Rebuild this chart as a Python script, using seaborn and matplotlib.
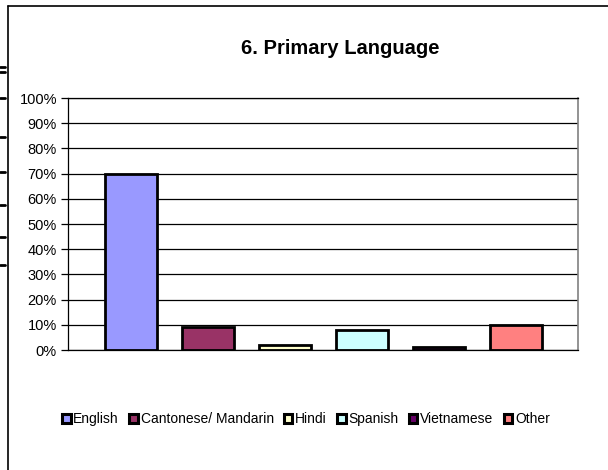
import pandas as pd
import seaborn as sns
from matplotlib import pyplot as plt
from matplotlib.lines import Line2D
from matplotlib.patches import Patch

languages = ["English", "Cantonese/ Mandarin", "Hindi", "Spanish", "Vietnamese", "Other"]
shares = [70, 9, 2, 8, 1, 10]
colors = ["#9999FF", "#993366", "#FFFFCC", "#CCFFFF", "#660066", "#FF8080"]
y_ticks = [0, 10, 20, 30, 40, 50, 60, 70, 80, 90, 100]


def main():
    sns.set_style("white")
    plt.rcParams["font.family"] = ["Liberation Sans", "DejaVu Sans"]
    plt.rcParams["text.color"] = "black"
    plt.rcParams["ytick.color"] = "black"
    plt.rcParams["ytick.labelcolor"] = "black"

    df = pd.DataFrame({"Language": languages, "Share": shares})

    fig = plt.figure(figsize=(6.08, 4.70), dpi=100)
    ax = fig.add_axes([68 / 608, 1 - 350 / 470, 510 / 608, 252 / 470])

    sns.barplot(df, x="Language", y="Share", hue="Language", palette=colors, saturation=1,
                width=0.68, edgecolor="black", linewidth=2.0, legend=False, ax=ax)

    ax.set_ylim(0, 100)
    ax.set_xlim(-0.82, 5.81)
    ax.set_yticks(y_ticks)
    ax.set_yticklabels([f"{t}%" for t in y_ticks], fontsize=10.5)
    ax.set_xticks([])
    ax.set_xlabel("")
    ax.set_ylabel("")
    ax.yaxis.grid(True, color="black", linewidth=0.9)
    ax.set_axisbelow(True)
    ax.tick_params(axis="y", left=True, length=5, width=0.9, color="black", pad=3)
    for side in ["left", "top", "bottom"]:
        ax.spines[side].set_color("black")
        ax.spines[side].set_linewidth(0.9)
    ax.spines["right"].set_color("#808080")
    ax.spines["right"].set_linewidth(1.2)

    fig.text(340 / 608, 1 - 48 / 470, "6. Primary Language", ha="center", va="center",
             fontsize=14.5, fontweight="bold")

    handles = [Patch(facecolor=c, edgecolor="black", linewidth=2.2) for c in colors]
    fig.legend(handles, languages, loc="center", bbox_to_anchor=(306 / 608, 1 - 419 / 470),
               ncol=6, frameon=False, fontsize=10, handlelength=0.6, handleheight=0.6,
               handletextpad=0.2, columnspacing=0.75)

    # outer chart frame (left and top edges visible)
    fig.add_artist(Line2D([8 / 608, 8 / 608], [0, 1 - 6 / 470], color="black", linewidth=1.2))
    fig.add_artist(Line2D([8 / 608, 1], [1 - 6 / 470, 1 - 6 / 470], color="black", linewidth=1.2))
    # stray marks at far left
    for y in [67, 72, 98, 137, 172, 205, 237, 265]:
        fig.add_artist(Line2D([0, 5 / 608], [1 - y / 470, 1 - y / 470], color="black", linewidth=2))

    fig.savefig("out.png", dpi=100, facecolor="white")
    plt.close(fig)


if __name__ == '__main__':
    main()
